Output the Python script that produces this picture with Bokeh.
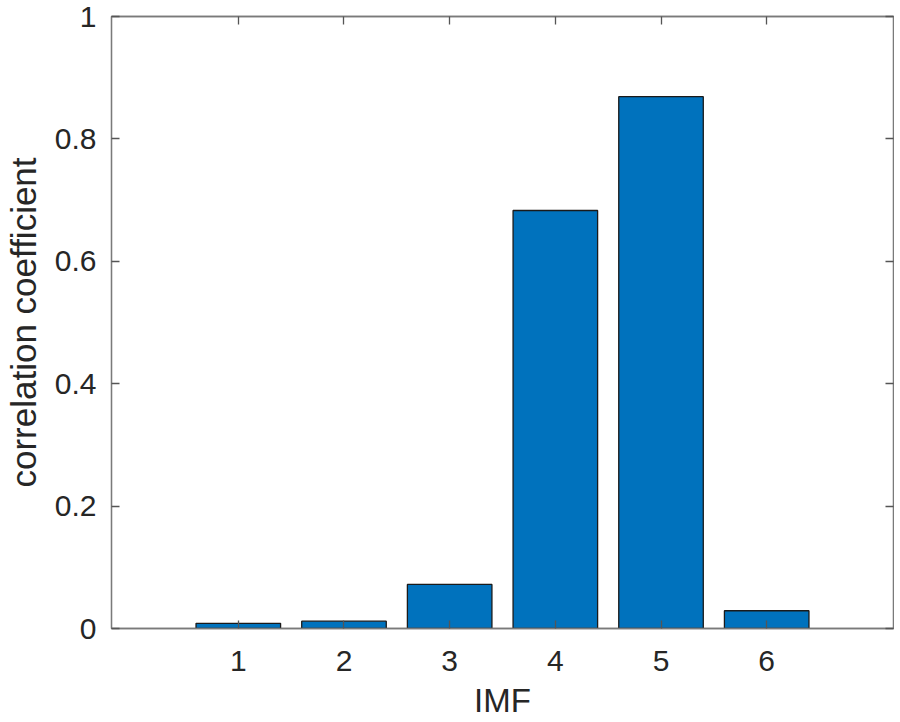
from bokeh.plotting import figure
from bokeh.models import Range1d, FixedTicker, LinearAxis
from bokeh.embed import file_html
from bokeh.resources import INLINE

imf = [1, 2, 3, 4, 5, 6]
corr = [0.0085, 0.012, 0.072, 0.683, 0.869, 0.029]
x_ticks = [1, 2, 3, 4, 5, 6]
y_ticks = [0, 0.2, 0.4, 0.6, 0.8, 1.0]
y_tick_labels = ["0", "0.2", "0.4", "0.6", "0.8", "1"]

FONT = "Liberation Sans"
AXIS_COLOR = "#7a7a7a"
TEXT_COLOR = "#262626"

p = figure(width=894, height=721, output_backend="svg", toolbar_location=None,
           x_range=Range1d(-0.2, 7.2), y_range=Range1d(0, 1),
           min_border_left=105, min_border_top=16, min_border_right=1, min_border_bottom=93)

p.vbar(x=imf, top=corr, width=0.8, fill_color="#0072BD", line_color="#1a1a1a", line_width=1.3)

p.xgrid.visible = False
p.ygrid.visible = False
p.outline_line_color = AXIS_COLOR
p.outline_line_width = 1.3
p.background_fill_color = "white"
p.border_fill_color = "white"

def style(ax, ticks, show_labels, overrides=None):
    ax.ticker = FixedTicker(ticks=ticks)
    ax.major_tick_in = 8
    ax.major_tick_out = 0
    ax.minor_tick_line_color = None
    ax.axis_line_color = AXIS_COLOR
    ax.axis_line_width = 1.3
    ax.major_tick_line_color = "#555555"
    ax.major_tick_line_width = 1.3
    ax.major_label_text_font = FONT
    ax.major_label_text_color = TEXT_COLOR
    ax.major_label_text_font_size = "30px"
    ax.axis_label_text_font = FONT
    ax.axis_label_text_color = TEXT_COLOR
    ax.axis_label_text_font_style = "normal"
    if overrides:
        ax.major_label_overrides = overrides
    if not show_labels:
        ax.major_label_overrides = {t: "" for t in ticks}
        ax.major_label_standoff = 0

xa = p.xaxis[0]
style(xa, x_ticks, True)
xa.axis_label = "IMF"
xa.axis_label_text_font_size = "33px"
xa.major_label_standoff = 22
xa.axis_label_standoff = 8

ya = p.yaxis[0]
style(ya, y_ticks, True, {t: l for t, l in zip(y_ticks, y_tick_labels)})
ya.axis_label = "correlation coefficient"
ya.axis_label_text_font_size = "35px"
ya.major_label_standoff = 15
ya.axis_label_standoff = 9

top_ax = LinearAxis()
style(top_ax, x_ticks, False)
p.add_layout(top_ax, "above")
right_ax = LinearAxis()
style(right_ax, y_ticks, False)
p.add_layout(right_ax, "right")

open("out.html", "w").write(file_html(p, INLINE))
